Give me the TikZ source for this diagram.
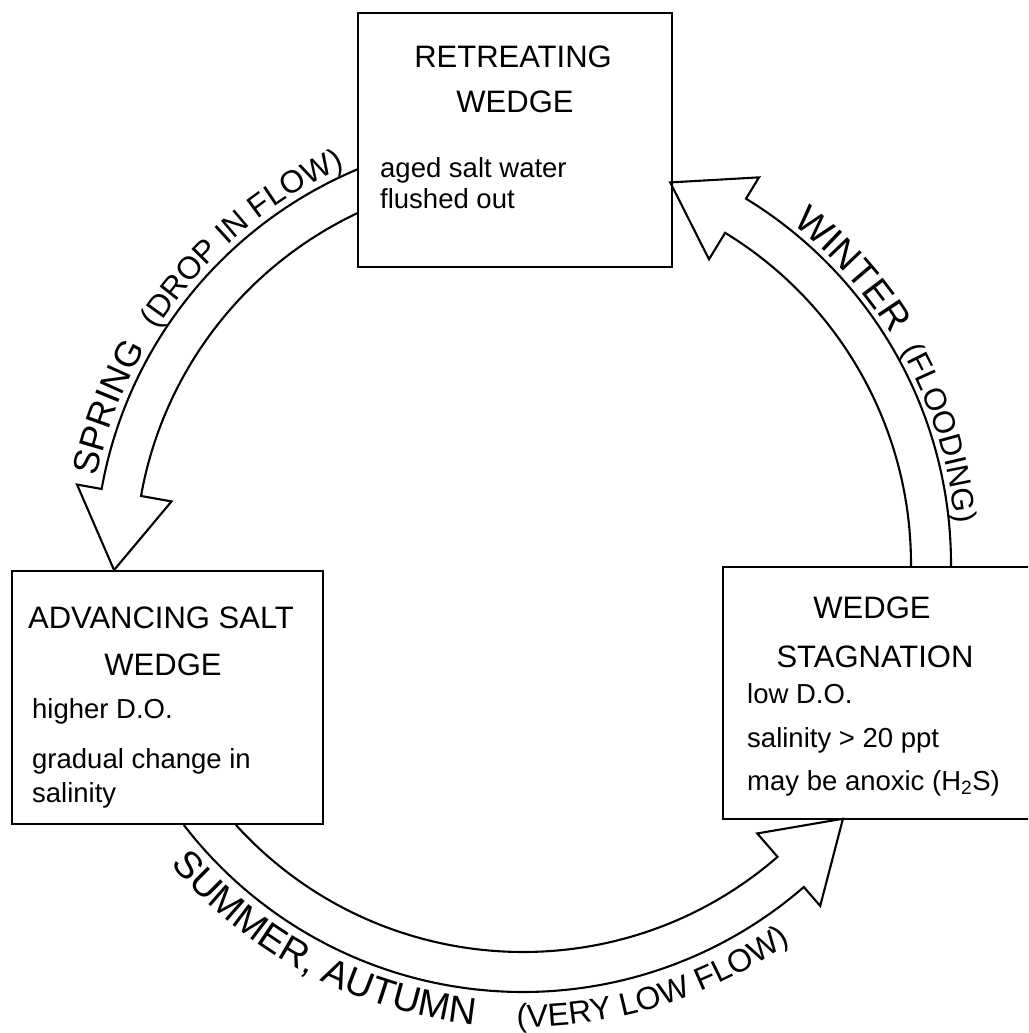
\documentclass[tikz,border=0pt]{standalone}
\usepackage{fontspec}
\setmainfont{Liberation Sans}
\usetikzlibrary{calc,decorations.text}
\newcommand{\headfont}{\fontsize{31}{37}\selectfont}
\newcommand{\bodyfont}{\fontsize{27.5}{33}\selectfont}
\newcommand{\cyclearrow}[4]{%
  \draw[flow] ($(C)+(#1:428)$) arc[start angle=#1, end angle=#3, radius=428]
    -- ($(C)+(#3:453)$) -- ($(C)+(#4:409)$) -- ($(C)+(#3:357)$)
    -- ($(C)+(#3:388)$) arc[start angle=#3, end angle=#2, radius=388];}
\newcommand{\arclabel}[5]{% size, text, start angle, end angle, radius
  \path[decorate, decoration={text along path, text={|\fontsize{#1}{#1}\selectfont|#2}}]
    ($(C)+(#3:#5)$) arc[start angle=#3, end angle=#4, radius=#5];}
\begin{document}
\begin{tikzpicture}[x=1pt,y=1pt,
  boxstyle/.style={draw, line width=2.4pt, inner sep=0pt, outer sep=0pt},
  head/.style={font=\headfont, anchor=base, inner sep=0pt},
  body/.style={font=\bodyfont, anchor=base west, inner sep=0pt},
  flow/.style={draw, line width=2.1pt, line join=miter}]
\useasboundingbox (0,0) rectangle (1028,-1033);
\clip (0,0) rectangle (1028,-1033);
\fill[white] (0,0) rectangle (1028,-1033);
\coordinate (C) at (523,-564);
% boxes
\node[boxstyle, minimum width=314pt, minimum height=254pt] (retreat) at (515,-140) {};
\node[boxstyle, minimum width=311pt, minimum height=253pt] (advance) at (167.5,-697.5) {};
\node[boxstyle, minimum width=317pt, minimum height=252pt] (stagn) at (881.5,-693) {};
% texts
\node[head] (t1) at (513,-67) {RETREATING};
\node[head] (t2) at (515,-112) {WEDGE};
\node[body] (t3) at (380,-177) {aged salt water};
\node[body] (t4) at (380,-208) {flushed out};
\node[head] (l1) at (161,-628) {ADVANCING SALT};
\node[head] (l2) at (163,-675) {WEDGE};
\node[body] (l3) at (32,-718) {higher D.O.};
\node[body] (l4) at (32,-768) {gradual change in};
\node[body] (l5) at (32,-802) {salinity};
\node[head] (r1) at (872,-618) {WEDGE};
\node[head] (r2) at (875,-667) {STAGNATION};
\node[body] (r3) at (747,-703) {low D.O.};
\node[body] (r4) at (747,-747) {salinity > 20 ppt};
\node[body] (r5) at (747,-790) {may be anoxic (H\textsubscript{2}S)};
% arrows
\cyclearrow{112.67}{115.16}{169.9}{180.85}
\cyclearrow{-0.4}{-0.44}{58.6}{68.9}
\cyclearrow{217.58}{222.28}{311}{321.47}
% labels along arrows
\arclabel{36}{SPRING}{168.4}{120}{435}
\arclabel{31.5}{(DROP IN FLOW)}{147.4}{90}{435}
\arclabel{38}{WINTER}{51.7}{10}{434}
\arclabel{31}{(FLOODING)}{29.4}{-20}{434}
\arclabel{38}{SUMMER, AUTUMN}{220.4}{300}{463}
\arclabel{32}{(VERY LOW FLOW)}{269.2}{340}{463}
\end{tikzpicture}
\end{document}
